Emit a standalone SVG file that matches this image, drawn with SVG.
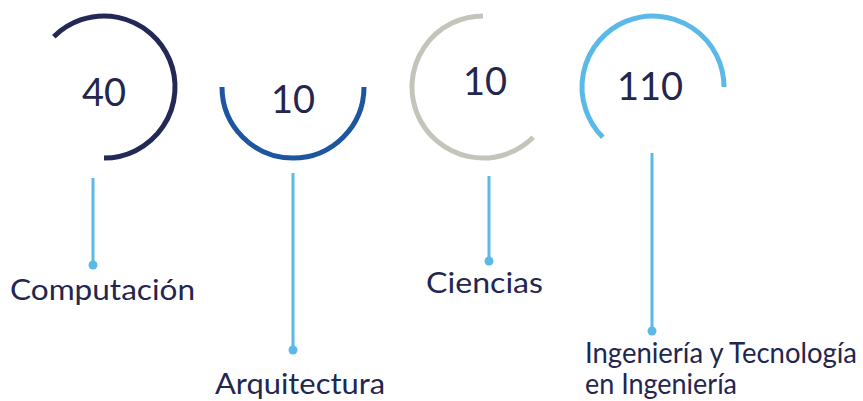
<svg xmlns="http://www.w3.org/2000/svg" width="863" height="401" viewBox="0 0 863 401">
<style>
.arc{fill:none;stroke-width:5}
.num{font-family:Lato,"Open Sans",sans-serif;font-size:38px;fill:#23264f;text-anchor:middle}
.lbl{font-family:Lato,"Open Sans",sans-serif;font-size:28px;fill:#23264f}
.conn line{stroke:#5ab9e6;stroke-width:3}
.conn circle{fill:#5ab9e6}
</style>
<rect width="863" height="401" fill="#fff"/>
<g id="computacion">
<path class="arc" stroke="#232857" d="M53.8,36.8 A71,71 0 1 1 104,158"/>
<text class="num" x="104" y="106">40</text>
<text class="lbl" x="10" y="300" textLength="185" lengthAdjust="spacingAndGlyphs">Computación</text>
</g>
<g id="arquitectura">
<path class="arc" stroke="#1e55a0" d="M222,87 A71,71 0 0 0 364,87"/>
<text class="num" x="293" y="113">10</text>
<text class="lbl" x="215" y="394" textLength="170" lengthAdjust="spacingAndGlyphs">Arquitectura</text>
</g>
<g id="ciencias">
<path class="arc" stroke="#c4c4bb" d="M483,16 A71,71 0 1 0 533.2,137.2"/>
<text class="num" x="485" y="95">10</text>
<text class="lbl" x="426" y="293" textLength="117" lengthAdjust="spacingAndGlyphs">Ciencias</text>
</g>
<g id="ingenieria">
<path class="arc" stroke="#5ab9e6" d="M602.8,137.2 A71,71 0 1 1 724,87"/>
<text class="num" x="650" y="100">110</text>
<text class="lbl" font-size="24"><tspan x="585" y="363" textLength="272" lengthAdjust="spacingAndGlyphs">Ingeniería y Tecnología</tspan><tspan x="585" y="394" textLength="152" lengthAdjust="spacingAndGlyphs">en Ingeniería</tspan></text>
</g>
<g id="connectors" class="conn">
<line x1="93" y1="178" x2="93" y2="265"/><circle cx="93" cy="265" r="4.5"/>
<line x1="293" y1="173" x2="293" y2="350"/><circle cx="293" cy="350" r="4.5"/>
<line x1="489" y1="176" x2="489" y2="261"/><circle cx="489" cy="261" r="4.5"/>
<line x1="652" y1="153" x2="652" y2="331"/><circle cx="652" cy="331" r="4.5"/>
</g>
</svg>
